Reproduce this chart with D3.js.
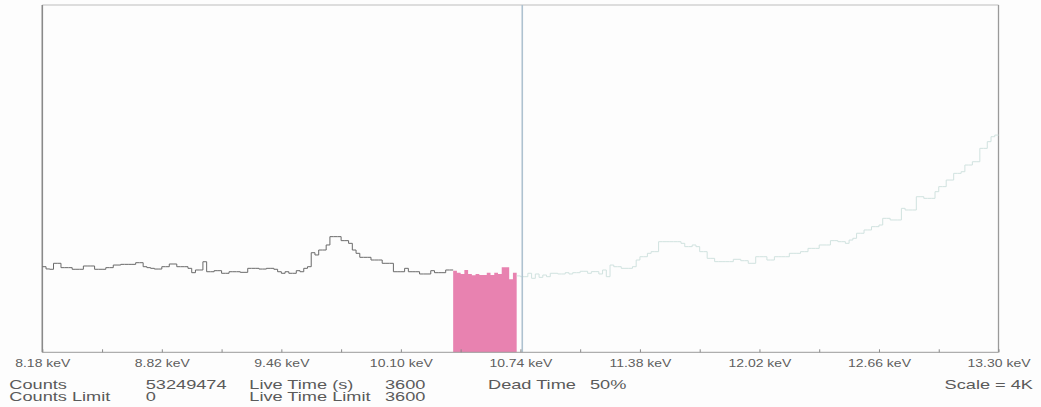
<!DOCTYPE html>
<html>
<head>
<meta charset="utf-8">
<script src="https://cdn.jsdelivr.net/npm/d3@7"></script>
<style>
  html, body { margin: 0; padding: 0; background: #fdfdfd; }
  svg { display: block; font-family: "Liberation Sans", Arial, sans-serif; }
</style>
</head>
<body>
<svg id="chart" width="1041" height="407"></svg>
<script>
// Spectrum: 256 channels of 0.02 keV starting at 8.18 keV
const firstChannelKeV = 8.18;
const channelWidthKeV = 0.02;
const counts = [
  986, 960, 956, 1025, 1025, 975, 975, 975, 956, 956,
  956, 994, 994, 994, 956, 956, 956, 975, 975, 1005,
  1005, 1013, 1013, 1013, 1013, 1032, 1032, 986, 975, 967,
  959, 959, 986, 986, 1017, 1017, 986, 986, 986, 967,
  917, 948, 948, 1043, 928, 928, 940, 940, 910, 910,
  928, 928, 928, 921, 921, 967, 967, 967, 959, 959,
  967, 967, 956, 928, 910, 928, 910, 910, 940, 928,
  967, 986, 1147, 1121, 1178, 1178, 1236, 1332, 1332, 1332,
  1286, 1286, 1255, 1178, 1140, 1094, 1094, 1094, 1063, 1063,
  1063, 1025, 1025, 1025, 928, 928, 928, 967, 928, 928,
  928, 902, 902, 902, 940, 917, 917, 917, 948, 948,
  940, 917, 902, 948, 902, 887, 902, 890, 890, 917,
  890, 917, 902, 979, 979, 841, 917, 880, 871, 871,
  910, 852, 902, 863, 890, 871, 910, 910, 902, 902,
  917, 902, 917, 917, 933, 933, 910, 929, 929, 902,
  948, 871, 1005, 986, 986, 967, 967, 967, 986, 1063,
  1101, 1101, 1140, 1159, 1159, 1274, 1274, 1274, 1274, 1274,
  1274, 1255, 1217, 1217, 1236, 1217, 1159, 1159, 1082, 1082,
  1044, 1044, 1044, 1044, 1044, 1071, 1071, 1055, 1055, 1025,
  1025, 1101, 1101, 1101, 1063, 1063, 1101, 1101, 1101, 1101,
  1140, 1140, 1140, 1159, 1159, 1197, 1197, 1197, 1236, 1236,
  1236, 1286, 1286, 1274, 1274, 1255, 1293, 1313, 1371, 1371,
  1409, 1409, 1447, 1447, 1466, 1543, 1543, 1524, 1524, 1524,
  1658, 1639, 1639, 1639, 1792, 1792, 1773, 1773, 1773, 1850,
  1908, 1908, 1984, 1984, 2061, 2061, 2080, 2157, 2157, 2195,
  2195, 2349, 2349, 2426, 2483, 2502
];

// Region of interest (channel index range, inclusive) and cursor
const roiChannels = [110, 126];
const cursorKeV = 10.75;

// Axis
const energyRange = [8.18, 13.30];
const majorTicks = [8.18, 8.82, 9.46, 10.10, 10.74, 11.38, 12.02, 12.66, 13.30];
const minorTicks = [8.50, 9.14, 9.78, 10.42, 11.06, 11.70, 12.34, 12.98];
const countScaleMax = 4000;

// Status lines under the chart
const statusLabels = [
  { text: "Counts", col: 0, row: 0 },
  { text: "Counts Limit", col: 0, row: 1 },
  { text: "53249474", col: 1, row: 0 },
  { text: "0", col: 1, row: 1 },
  { text: "Live Time (s)", col: 2, row: 0 },
  { text: "Live Time Limit", col: 2, row: 1 },
  { text: "3600", col: 3, row: 0 },
  { text: "3600", col: 3, row: 1 },
  { text: "Dead Time", col: 4, row: 0 },
  { text: "50%", col: 5, row: 0 }
];
const scaleLabel = "Scale = 4K";

// ---- layout ----
const plot = { left: 42.3, right: 998.5, top: 5, bottom: 352.3 };
const stretch = 1.4;               // glyphs are drawn wide
const colX = [9.3, 145.7, 249.3, 385, 488, 590];
const rowY = [388.5, 401];

const svg = d3.select("#chart");
svg.append("rect").attr("width", 1041).attr("height", 407).attr("fill", "#fdfdfd");

const x = d3.scaleLinear().domain(energyRange).range([plot.left, plot.right]);
const y = d3.scaleLinear().domain([0, countScaleMax]).range([plot.bottom, plot.top]);

const channels = counts.map((c, i) => ({ e: firstChannelKeV + i * channelWidthKeV, c }));
// step points for a channel range, including the closing edge
function stepPoints(a, b) {
  const pts = channels.slice(a, b + 1);
  pts.push({ e: firstChannelKeV + (b + 1) * channelWidthKeV, c: counts[b] });
  return pts;
}

const line = d3.line().x(d => x(d.e)).y(d => y(d.c)).curve(d3.curveStepAfter);
const area = d3.area().x(d => x(d.e)).y0(y(0)).y1(d => y(d.c)).curve(d3.curveStepAfter);

// frame
svg.append("line").attr("x1", plot.left).attr("x2", plot.right)
  .attr("y1", plot.top).attr("y2", plot.top).attr("stroke", "#bdbdbd").attr("stroke-width", 1.2);
svg.append("line").attr("x1", plot.right).attr("x2", plot.right)
  .attr("y1", plot.top).attr("y2", plot.bottom).attr("stroke", "#9a9a9a").attr("stroke-width", 1.3);
svg.append("line").attr("x1", plot.left).attr("x2", plot.left)
  .attr("y1", plot.top).attr("y2", plot.bottom).attr("stroke", "#8a8a8a").attr("stroke-width", 1.6);

// ROI fill
svg.append("path").datum(stepPoints(roiChannels[0], roiChannels[1]))
  .attr("d", area).attr("fill", "#e882b0");

// spectrum left of the ROI
svg.append("path").datum(stepPoints(0, roiChannels[0] - 1))
  .attr("d", line).attr("fill", "none").attr("stroke", "#6a6a6a").attr("stroke-width", 1);

// spectrum right of the ROI (faint trace)
svg.append("path").datum(stepPoints(roiChannels[1] + 1, counts.length - 1))
  .attr("d", line).attr("fill", "none").attr("stroke", "#d0e2df").attr("stroke-width", 1);

// cursor
svg.append("line").attr("x1", x(cursorKeV)).attr("x2", x(cursorKeV))
  .attr("y1", plot.top).attr("y2", plot.bottom)
  .attr("stroke", "#aec2d0").attr("stroke-width", 1.6);

// energy axis
const axis = svg.append("g").attr("transform", `translate(0,${plot.bottom})`);
axis.call(d3.axisBottom(x).tickValues(majorTicks).tickSize(-3).tickFormat(d => d.toFixed(2) + " keV"));
axis.append("g").call(d3.axisBottom(x).tickValues(minorTicks).tickSize(-3).tickFormat(""))
  .select(".domain").remove();
axis.selectAll(".domain").attr("stroke", "#9a9a9a").attr("d", `M${plot.left},0H${plot.right}`);
axis.selectAll(".tick line").attr("stroke", "#8a8a8a");
axis.selectAll(".tick text")
  .attr("y", 14.4).attr("dy", null)
  .attr("fill", "#5e5e5e")
  .attr("font-size", 10)
  .attr("font-family", "'Liberation Sans', Arial, sans-serif")
  .attr("transform", `scale(${stretch},1)`);

// status text
const status = svg.append("g").attr("fill", "#5a5a5a").attr("font-size", 13);
statusLabels.forEach(s => {
  status.append("g").attr("transform", `translate(${colX[s.col]},${rowY[s.row]})`)
    .append("text").attr("transform", `scale(${stretch},1)`).text(s.text);
});
status.append("g").attr("transform", `translate(1033,${rowY[0]})`)
  .append("text").attr("text-anchor", "end").attr("transform", `scale(${stretch},1)`).text(scaleLabel);
</script>
</body>
</html>
